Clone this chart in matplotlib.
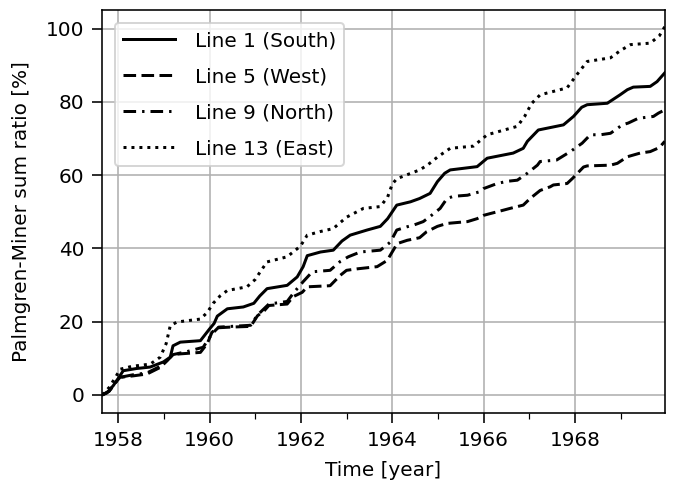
import numpy as np
import matplotlib
matplotlib.use("Agg")
import matplotlib.pyplot as plt
from matplotlib.ticker import MultipleLocator

# Line 1 (South)
t_south = [1957.65, 1957.75, 1957.89, 1958.0, 1958.11, 1958.4, 1958.7, 1958.99, 1959.14, 1959.2,
           1959.36, 1959.8, 1960.0, 1960.1, 1960.17, 1960.39, 1960.74, 1960.97, 1961.1, 1961.26,
           1961.7, 1961.92, 1962.05, 1962.14, 1962.43, 1962.71, 1962.9, 1963.08, 1963.45, 1963.74,
           1963.9, 1964.1, 1964.4, 1964.6, 1964.83, 1964.99, 1965.15, 1965.27, 1965.86, 1966.08,
           1966.65, 1966.87, 1966.96, 1967.2, 1967.75, 1967.97, 1968.15, 1968.27, 1968.71, 1968.99,
           1969.15, 1969.28, 1969.65, 1969.8, 1969.97]
v_south = [0, 0.5, 2.5, 4.5, 6.6, 7.2, 7.6, 9.0, 10.3, 13.4,
           14.4, 14.8, 18.0, 19.5, 21.5, 23.5, 24.0, 25.0, 27.0, 29.0,
           29.9, 32.2, 35.0, 38.0, 39.0, 39.5, 42.0, 43.6, 45.0, 46.0,
           48.1, 51.8, 52.7, 53.6, 55.0, 58.2, 60.5, 61.4, 62.3, 64.6,
           66.0, 67.3, 69.2, 72.3, 73.7, 76.0, 78.5, 79.2, 79.6, 81.9,
           83.3, 84.0, 84.2, 85.5, 87.9]

# Line 5 (West)
t_west = [1957.65, 1957.8, 1957.95, 1958.04, 1958.33, 1958.63, 1958.92, 1959.07, 1959.2, 1959.36,
          1959.8, 1959.95, 1960.05, 1960.15, 1960.45, 1960.9, 1961.05, 1961.2, 1961.3, 1961.7,
          1961.83, 1962.03, 1962.14, 1962.64, 1962.86, 1963.0, 1963.23, 1963.67, 1963.89, 1964.0,
          1964.11, 1964.33, 1964.6, 1964.75, 1964.99, 1965.2, 1965.65, 1965.86, 1966.0, 1966.15,
          1966.43, 1966.58, 1966.87, 1967.02, 1967.24, 1967.46, 1967.53, 1967.83, 1967.95, 1968.19,
          1968.27, 1968.78, 1968.93, 1969.15, 1969.43, 1969.65, 1969.85, 1969.97]
v_west = [0, 1.0, 3.5, 4.8, 5.2, 5.7, 7.5, 9.3, 11.0, 11.2,
          11.6, 14.0, 17.0, 18.3, 18.5, 18.7, 21.6, 23.0, 24.4, 24.8,
          26.8, 28.0, 29.5, 29.8, 32.6, 34.0, 34.4, 35.0, 36.7, 39.0,
          41.3, 42.2, 42.9, 44.5, 46.0, 46.8, 47.3, 48.1, 49.0, 49.5,
          50.4, 50.9, 51.8, 53.6, 55.8, 56.8, 57.3, 57.7, 59.1, 62.2,
          62.5, 62.7, 63.2, 65.0, 66.0, 66.4, 67.5, 69.2]

# Line 9 (North)
t_north = [1957.65, 1957.8, 1957.95, 1958.04, 1958.33, 1958.63, 1958.92, 1959.07, 1959.2, 1959.5,
           1959.86, 1960.05, 1960.2, 1960.9, 1961.05, 1961.3, 1961.7, 1961.85, 1962.05, 1962.25,
           1962.64, 1962.86, 1963.04, 1963.3, 1963.74, 1963.96, 1964.1, 1964.33, 1964.46, 1964.68,
           1964.83, 1965.05, 1965.2, 1965.34, 1965.65, 1965.93, 1966.0, 1966.3, 1966.52, 1966.74,
           1966.96, 1967.18, 1967.24, 1967.6, 1967.9, 1968.16, 1968.34, 1968.56, 1968.78, 1969.04,
           1969.17, 1969.39, 1969.72, 1969.83, 1969.97]
v_north = [0, 1.0, 3.5, 4.8, 5.5, 6.0, 7.8, 9.5, 11.0, 11.8,
           13.0, 16.6, 18.5, 19.0, 21.8, 24.8, 25.5, 28.0, 30.9, 33.6,
           34.0, 36.4, 37.7, 39.0, 39.5, 41.7, 45.0, 45.9, 46.3, 47.3,
           48.7, 50.9, 53.6, 54.2, 54.5, 55.5, 56.3, 57.7, 58.3, 58.6,
           60.5, 62.7, 63.7, 64.1, 66.4, 68.7, 71.0, 71.0, 71.4, 73.7,
           74.2, 75.5, 76.0, 76.9, 77.8]

# Line 13 (East)
t_east = [1957.65, 1957.8, 1957.95, 1958.04, 1958.3, 1958.7, 1958.92, 1959.05, 1959.14, 1959.29,
          1959.8, 1959.95, 1960.08, 1960.23, 1960.39, 1960.82, 1961.0, 1961.11, 1961.26, 1961.7,
          1961.99, 1962.14, 1962.43, 1962.71, 1963.0, 1963.37, 1963.74, 1963.9, 1964.0, 1964.1,
          1964.6, 1964.77, 1965.0, 1965.27, 1965.78, 1966.08, 1966.74, 1966.9, 1967.05, 1967.24,
          1967.83, 1968.05, 1968.27, 1968.78, 1969.0, 1969.22, 1969.65, 1969.85, 1969.97]
v_east = [0, 2.0, 5.0, 7.0, 7.8, 8.4, 10.3, 14.0, 18.9, 19.9,
          20.7, 22.5, 25.0, 27.0, 28.5, 29.5, 31.5, 33.6, 36.3, 37.7,
          40.6, 43.6, 44.6, 45.4, 48.5, 50.9, 51.4, 54.0, 57.5, 59.0,
          61.4, 62.7, 65.0, 67.3, 67.9, 71.0, 73.3, 76.0, 79.5, 81.9,
          83.8, 87.5, 91.0, 92.0, 94.0, 95.6, 96.0, 98.0, 100.5]

plt.rcParams['font.size'] = 10

fig = plt.figure(figsize=(677 / 144, 485 / 144), dpi=144)
ax = fig.add_axes([0.151, 0.148, 0.831, 0.831])

ax.plot(t_south, v_south, 'k-', lw=1.5, label='Line 1 (South)')
ax.plot(t_west, v_west, 'k--', lw=1.5, dashes=(4.2, 1.8), label='Line 5 (West)')
ax.plot(t_north, v_north, 'k-.', lw=1.5, dashes=(4.2, 2.0, 0.8, 2.0), label='Line 9 (North)')
ax.plot(t_east, v_east, 'k:', lw=1.5, label='Line 13 (East)')

ax.set_xlim(t_south[0], t_south[-1])
ax.set_ylim(-5, 105)
ax.xaxis.set_major_locator(MultipleLocator(2))
ax.xaxis.set_minor_locator(MultipleLocator(1))
ax.yaxis.set_major_locator(MultipleLocator(20))
ax.tick_params(which='major', length=5, pad=4)
ax.tick_params(which='minor', length=3)
ax.grid(True, which='major')

ax.set_xlabel('Time [year]', labelpad=5.5)
ax.set_ylabel('Palmgren-Miner sum ratio [%]', labelpad=7.5)
ax.legend(loc='upper left', labelspacing=0.85, handlelength=2.6,
          handletextpad=1.0, borderaxespad=0.65)

fig.savefig('out.png', dpi=144)
